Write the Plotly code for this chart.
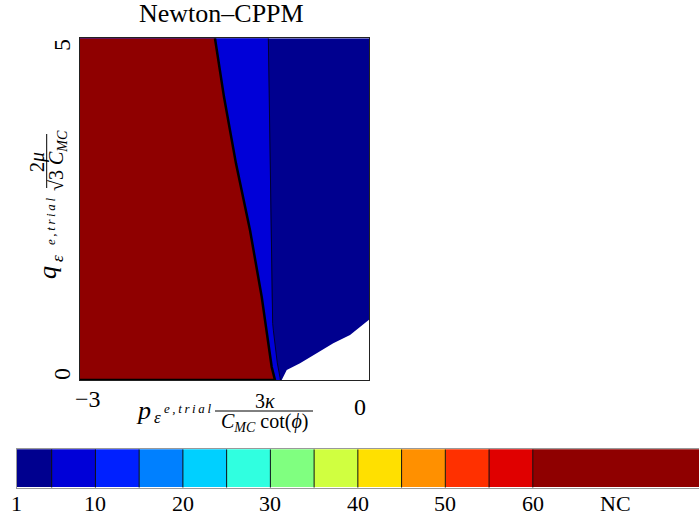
import plotly.graph_objects as go

W, H = 699, 518

# Iteration-count regions in the (p, q) trial-stress plane.
# NC / ~10-iteration boundary (top to bottom)
q_red = [5.0, 4.14, 3.17, 2.19, 1.22, 0.19, 0.0]
p_red = [-1.599, -1.505, -1.381, -1.235, -1.114, -1.010, -0.976]

# ~10-iteration / 1-iteration boundary (top to bottom)
q_blue = [5.0, 3.17, 1.22, 0.83, 0.73, 0.25, 0.04, 0.0]
p_blue = [-1.045, -1.028, -1.010, -1.000, -0.993, -0.952, -0.924, -0.920]

# edge of the region without samples (bottom right)
p_nodata = [-0.906, -0.854, -0.716, -0.543, -0.371, -0.197, -0.007, 0.0]
q_nodata = [0.0, 0.146, 0.244, 0.390, 0.536, 0.658, 0.867, 0.88]

# iteration-count legend
cbar_edges = [1, 5, 10, 15, 20, 25, 30, 35, 40, 45, 50, 55, 60, 79]
cbar_colors = ["#00008f", "#0000d8", "#0020ff", "#0080ff", "#00d0ff",
               "#30ffe0", "#80ff80", "#d0ff40", "#ffe000", "#ff9000",
               "#ff3000", "#e00000", "#8f0000"]
cbar_tickvals = [1, 10, 20, 30, 40, 50, 60, 69.5]
cbar_ticktext = ["1", "10", "20", "30", "40", "50", "60", "NC"]

FONT = "Liberation Serif"
THIN = "\u2009"


def px(x):
    return x / W


def py(y):
    return 1 - y / H


fig = go.Figure()

# 1-iteration region (everything except the no-data corner)
fig.add_trace(go.Scatter(
    x=[-3] + p_nodata + [0, -3], y=[0] + q_nodata + [5, 5],
    fill="toself", fillcolor=cbar_colors[0], mode="lines",
    line=dict(width=0), hoverinfo="skip", showlegend=False))

# ~10-iteration band
fig.add_trace(go.Scatter(
    x=[-3] + p_blue[::-1] + [-3], y=[0] + q_blue[::-1] + [5],
    fill="toself", fillcolor=cbar_colors[1], mode="lines",
    line=dict(width=0), hoverinfo="skip", showlegend=False))
fig.add_trace(go.Scatter(
    x=p_blue, y=q_blue, mode="lines",
    line=dict(width=1, color="#000030"), hoverinfo="skip", showlegend=False))

# non-converged region
fig.add_trace(go.Scatter(
    x=[-3] + p_red[::-1] + [-3], y=[0] + q_red[::-1] + [5],
    fill="toself", fillcolor=cbar_colors[-1], mode="lines",
    line=dict(width=0), hoverinfo="skip", showlegend=False))
fig.add_trace(go.Scatter(
    x=[-3] + p_red[::-1], y=[0] + q_red[::-1], mode="lines",
    line=dict(width=2.5, color="black"), hoverinfo="skip", showlegend=False))

# legend strip
lefts = cbar_edges[:-1]
widths = [b - a for a, b in zip(cbar_edges[:-1], cbar_edges[1:])]
fig.add_trace(go.Bar(
    orientation="h", y=[0] * len(widths), x=widths, base=lefts, width=1,
    marker=dict(color=cbar_colors, line=dict(width=0)),
    xaxis="x2", yaxis="y2", hoverinfo="skip", showlegend=False))
div_x, div_y = [], []
for e in cbar_edges[1:-1]:
    div_x += [e, e, None]
    div_y += [-0.5, 0.5, None]
fig.add_trace(go.Scatter(
    x=div_x, y=div_y, mode="lines", line=dict(width=1, color="#111"),
    xaxis="x2", yaxis="y2", hoverinfo="skip", showlegend=False))

axis_common = dict(showgrid=False, zeroline=False, ticks="", fixedrange=True,
                   automargin=False, showticklabels=False, showline=True,
                   mirror=True, linewidth=1)

fig.update_layout(
    width=W, height=H, autosize=False,
    margin=dict(l=0, r=0, t=0, b=0, pad=0, autoexpand=False),
    paper_bgcolor="white", plot_bgcolor="white", showlegend=False,
    font=dict(family=FONT, color="black"),
    xaxis=dict(domain=[px(80), px(369)], range=[-3, 0], linecolor="#222",
               **axis_common),
    yaxis=dict(domain=[py(380), py(38.3)], range=[0, 5], linecolor="#222",
               **axis_common),
    xaxis2=dict(domain=[px(16.7), 1], range=[cbar_edges[0], cbar_edges[-1]],
                anchor="y2", linecolor="#999", **axis_common),
    yaxis2=dict(domain=[py(487.7), py(449.3)], range=[-0.5, 0.5],
                anchor="x2", linecolor="#999", **axis_common),
    bargap=0,
)


def note(text, x, y, size, angle=0):
    fig.add_annotation(text=text, x=px(x), y=py(y), xref="paper",
                       yref="paper", showarrow=False, textangle=angle,
                       xanchor="center", yanchor="middle",
                       font=dict(size=size, family=FONT, color="black"))


# legend strip labels, placed on the strip's own value axis
for v, t in zip(cbar_tickvals, cbar_ticktext):
    fig.add_annotation(text=t, x=v, xref="x2", y=py(503), yref="paper",
                       showarrow=False, xanchor="center", yanchor="middle",
                       font=dict(size=22, family=FONT, color="black"))

note("Newton–CPPM", 221, 14, 26)

# axis end labels
note("5", 62, 45, 24, -90)
note("0", 62, 374, 24, -90)
note("−3", 88, 399, 24)
note("0", 360, 407, 24)

# x label: symbol with stacked subscripts, then a fraction
note("<i>p</i>", 143, 410, 26)
note("<i>ε</i>", 157, 417, 17)
note("<i>" + THIN.join("e,trial") + "</i>", 187, 408, 13)
note("3<i>κ</i>", 265, 401, 20)
note("<i>C</i><sub><i>MC</i></sub> cot(<i>ϕ</i>)", 264, 422, 20)
fig.add_shape(type="line", xref="paper", yref="paper",
              x0=px(215), x1=px(313), y0=py(411), y1=py(411),
              line=dict(color="black", width=1))

# y label: same construction, rotated
note("<i>q</i>", 47, 273, 26, -90)
note("<i>ε</i>", 57, 259, 17, -90)
note("<i>" + THIN.join("e,trial") + "</i>", 50, 222, 13, -90)
note("2<i>μ</i>", 37, 162, 20, -90)
note("√3 <i>C</i><sub><i>MC</i></sub>", 58, 161, 20, -90)
fig.add_shape(type="line", xref="paper", yref="paper",
              x0=px(46.7), x1=px(46.7), y0=py(134), y1=py(188),
              line=dict(color="black", width=1))

fig.write_html("out.html")
